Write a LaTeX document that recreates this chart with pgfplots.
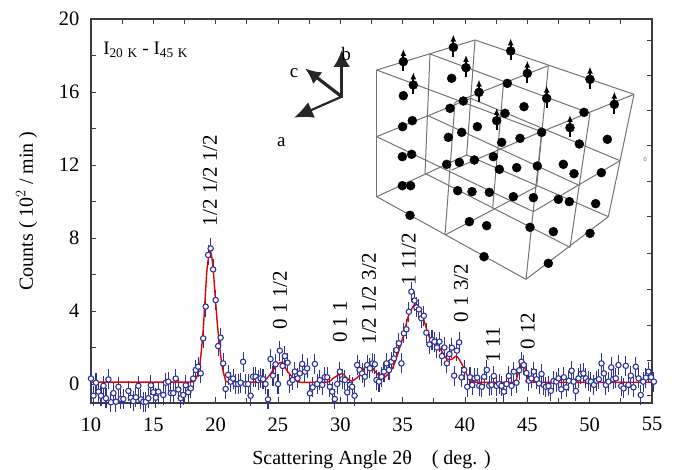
\documentclass[border=0pt]{standalone}
\usepackage{pgfplots}
\pgfplotsset{compat=1.18}
\usepackage{fontspec}
\setmainfont{Liberation Serif}
\usetikzlibrary{arrows.meta}
\definecolor{ptblue}{RGB}{45,50,150}
\definecolor{axgray}{RGB}{60,60,60}
\definecolor{wire}{RGB}{115,115,115}
\newcommand{\wl}[4]{\addplot[wire,line width=1pt] coordinates {(#1,#2) (#3,#4)};}
\newcommand{\spin}[2]{\addplot[black,line width=2pt,-{Latex[length=7pt,width=6pt]}] coordinates {(#1,#2+28) (#1,#2-38)};}
\pgfplotstableread{
x y
10.0 0.30
10.2 -0.64
10.4 0.07
10.6 -0.42
10.8 -0.64
11.0 -0.10
11.2 -0.78
11.4 0.25
11.6 -1.00
11.8 -0.50
12.0 -0.97
12.2 -0.15
12.4 -0.82
12.6 -0.82
13.0 -0.38
13.2 -0.75
13.4 -0.93
13.6 -0.73
13.8 -0.10
14.0 -0.84
14.2 -0.97
14.4 -0.97
14.6 -0.78
14.8 -0.07
15.0 -0.45
15.2 -0.75
15.4 -0.42
15.8 -0.60
16.0 0.07
16.2 0.13
16.4 -0.50
16.6 -0.50
16.8 0.30
17.0 -0.30
17.2 -0.78
17.4 -0.60
17.6 -0.07
17.8 -0.45
18.0 -0.24
18.2 0.30
18.4 0.77
18.6 0.95
18.8 0.58
19.0 2.50
19.2 4.24
19.4 7.07
19.6 7.43
19.8 6.28
20.0 4.60
20.2 2.08
20.4 2.54
20.6 1.13
20.8 -0.27
21.0 0.50
21.2 0.13
21.4 0.30
21.6 0.00
21.8 0.00
22.0 0.07
22.2 1.22
22.4 0.00
22.6 0.00
22.8 -0.64
23.0 0.40
23.2 0.40
23.4 0.22
23.6 0.31
23.8 0.27
24.0 0.00
24.2 -0.84
24.4 1.37
24.6 0.46
24.8 1.08
25.0 0.00
25.15 1.83
25.37 0.99
25.55 1.53
25.77 1.17
25.95 0.07
26.17 0.22
26.35 0.68
26.57 0.31
26.75 0.58
26.94 1.10
27.16 0.68
27.34 0.86
27.56 -0.51
27.77 -0.18
27.96 1.10
28.15 0.00
28.36 0.22
28.55 -0.05
28.76 0.37
28.95 0.37
29.16 -0.15
29.35 -0.42
29.56 -0.82
29.75 0.00
29.96 0.68
30.15 0.26
30.36 0.22
30.55 -0.46
30.77 -0.05
30.95 -0.15
31.14 -0.64
31.35 1.04
31.54 0.77
31.75 0.58
31.97 0.40
32.15 1.04
32.37 0.86
32.57 1.13
32.77 1.08
32.90 0.22
33.10 0.13
33.30 0.40
33.50 0.68
33.70 1.13
33.90 0.77
34.10 1.22
34.30 1.40
34.50 1.86
34.70 2.23
34.90 1.13
35.10 2.78
35.30 3.00
35.50 3.96
35.70 5.06
35.95 4.57
36.10 4.20
36.30 4.09
36.50 3.60
36.70 3.74
36.90 2.81
37.15 2.17
37.35 2.41
37.55 2.32
37.75 2.00
37.95 2.32
38.15 1.53
38.35 2.00
38.55 1.13
38.75 1.64
38.95 1.99
39.13 0.46
39.35 1.83
39.53 2.28
39.72 0.37
39.93 0.77
40.18 -0.15
40.40 0.37
40.58 -0.05
40.77 0.31
40.98 0.35
41.14 -0.10
41.35 -0.15
41.54 0.40
41.76 0.77
41.94 -0.09
42.13 -0.05
42.32 0.44
42.53 -0.10
42.74 0.00
42.93 -0.10
43.12 -0.42
43.33 0.00
43.52 0.44
43.73 -0.10
43.92 0.68
44.13 0.07
44.35 0.75
44.53 1.22
44.72 1.04
44.93 0.60
45.12 0.18
45.33 0.31
45.52 0.68
45.74 0.26
45.94 0.03
46.14 0.55
46.32 -0.05
46.49 -0.15
46.70 -0.11
46.89 -0.37
47.10 0.16
47.32 0.13
47.50 0.31
47.72 -0.29
47.93 0.37
48.12 -0.18
48.33 0.18
48.55 0.73
48.71 0.13
48.89 -0.38
49.10 0.31
49.29 0.55
49.50 0.58
49.70 0.31
49.88 0.16
50.10 0.13
50.34 -0.05
50.55 0.18
50.74 0.26
50.95 1.13
51.14 0.58
51.30 -0.05
51.51 0.13
51.73 0.91
51.89 0.26
52.10 0.31
52.31 1.04
52.53 -0.11
52.72 -0.24
52.90 1.00
53.11 -0.05
53.30 0.46
53.51 -0.18
53.70 0.95
53.92 0.31
54.10 -0.60
54.29 0.13
54.51 0.35
54.72 0.68
54.93 0.37
55.15 0.13
}\pts
\pgfplotstableread{
x y
10.0 0.10
14.0 0.10
18.0 0.11
18.3 0.22
18.5 0.42
18.74 1.13
19.0 2.96
19.28 6.06
19.45 7.05
19.57 7.30
19.68 7.00
19.81 6.23
20.13 3.32
20.48 1.13
20.75 0.31
21.01 0.11
23.60 0.11
23.82 0.13
24.22 0.40
24.62 0.77
25.00 1.10
25.37 1.19
25.75 0.70
26.50 0.16
27.00 0.09
29.00 0.11
29.40 0.30
30.10 0.58
30.50 0.35
30.90 0.16
31.44 0.40
32.00 0.95
32.37 1.04
32.90 0.60
33.44 0.31
34.24 0.95
35.04 2.60
35.44 3.69
35.98 4.38
36.38 4.15
36.78 3.32
37.18 2.50
37.85 2.10
38.50 1.40
38.92 1.35
39.32 1.53
39.72 1.13
40.12 0.55
40.40 0.22
40.90 0.10
43.90 0.10
44.13 0.30
44.62 1.17
45.07 0.30
45.47 0.10
55.00 0.10
}\fit
\begin{document}
\begin{tikzpicture}
\path[use as bounding box] (-91pt,-67pt) rectangle (584pt,403pt);
\begin{axis}[
  at={(0,0)},anchor=south west,scale only axis,width=561pt,height=384pt,
  xmin=-537,xmax=1146,ymin=12,ymax=1164,y dir=reverse,
  xtick=\empty,ytick pos=right,
  ytick={75,180,285,392,500,605,715,822,930,1035,1140},
  yticklabels={},
  tick align=inside,major tick length=5pt,
  axis line style={draw=none},
  every tick/.style={axgray,line width=0.9pt},
  clip=false]
\wl{320}{165}{320}{545}
\wl{480}{117}{465}{475}
\wl{615}{75}{590}{420}
\wl{835}{152}{800}{515}
\wl{1092}{238}{1015}{605}
\wl{555}{262}{525}{660}
\wl{700}{210}{668}{580}
\wl{960}{295}{900}{697}
\wl{815}{350}{768}{793}
\wl{320}{165}{615}{75}
\wl{615}{75}{1092}{238}
\wl{320}{165}{815}{350}
\wl{815}{350}{1092}{238}
\wl{480}{117}{960}{295}
\wl{835}{152}{555}{262}
\wl{320}{365}{602}{250}
\wl{602}{250}{1050}{437}
\wl{320}{365}{790}{590}
\wl{790}{590}{1050}{437}
\wl{470}{300}{925}{510}
\wl{545}{465}{825}{345}
\wl{320}{545}{590}{420}
\wl{590}{420}{1015}{605}
\wl{320}{545}{768}{793}
\wl{768}{793}{1015}{605}
\wl{465}{475}{900}{697}
\wl{525}{660}{800}{515}
\addplot[only marks,mark=*,mark size=4.5pt,black] coordinates {
(400,140)(550,97)(722,108)(588,158)(772,175)(960,193)(1033,268)(430,210)(627,232)(830,250)(680,317)(900,338)
(545,190)(400,242)(712,205)(580,258)(540,280)(762,275)(942,292)(705,295)(427,317)(398,335)(622,335)(575,352)(535,367)(815,352)(750,370)(695,382)(928,387)(1012,373)
(425,418)(397,425)(613,435)(568,442)(530,448)(670,425)(688,463)(740,458)(802,453)(880,448)(912,476)(994,473)
(422,512)(397,512)(563,527)(606,530)(658,532)(730,545)(790,548)(865,553)(898,560)(977,566)
(420,601)(598,620)(650,632)(780,637)(850,650)(960,655)(642,725)(835,745)};
\spin{400}{140}\spin{550}{97}\spin{722}{108}\spin{588}{158}\spin{772}{175}\spin{960}{193}
\spin{1033}{268}\spin{430}{210}\spin{627}{232}\spin{830}{250}\spin{680}{317}\spin{900}{338}
\addplot[black!85,line width=3.2pt,-{Latex[length=17pt,width=17pt]}] coordinates {(215,248)(215,105)};
\addplot[black!85,line width=3.2pt,-{Latex[length=16pt,width=15pt]}] coordinates {(215,245)(105,160)};
\addplot[black!85,line width=2.2pt,-{Latex[length=19pt,width=17pt]}] coordinates {(215,245)(72,308)};
\addplot[only marks,mark=diamond,mark size=2pt,gray] coordinates {(1125,432)};
\node[font=\fontsize{19}{19}\selectfont] at (axis cs:34,382) {a};
\node[font=\fontsize{19}{19}\selectfont] at (axis cs:228,118) {b};
\node[font=\fontsize{19}{19}\selectfont] at (axis cs:72,175) {c};
\end{axis}
\begin{axis}[
  at={(0,0)},anchor=south west,scale only axis,width=561pt,height=384pt,
  xmin=10,xmax=55,ymin=-1.04,ymax=20,
  xtick={10,15,...,55},ytick={0,4,...,20},
  minor xtick={12.5,17.5,...,52.5},minor ytick={2,6,...,18},
  tick align=inside,ytick pos=left,
  major tick length=5.5pt,minor tick length=5pt,
  axis line style={axgray,line width=1.5pt},
  every tick/.style={axgray,line width=0.9pt},
  /pgf/number format/assume math mode=true,
  tick label style={font=\fontsize{20.5}{20.5}\selectfont},
  xticklabel style={yshift=-11pt},
  yticklabel style={xshift=-8pt},
  xlabel={Scattering Angle 2θ\ \ \ \ ( deg. )},
  ylabel={Counts ( 10$^{2}$ / min )},
  label style={font=\fontsize{20}{20}\selectfont},
  xlabel shift=12pt,
  ylabel shift=15pt,
  clip=false]
\addplot[ptblue,only marks,mark=*,mark size=2.7pt,
  mark options={fill=white,draw=ptblue,line width=1.1pt},
  error bars/.cd,y dir=both,y fixed=0.55,error mark=none,
  error bar style={ptblue,line width=1.1pt}] table[x=x,y=y] {\pts};
\addplot[red!90!black,line width=1.4pt,smooth,tension=0.4] table[x=x,y=y] {\fit};
\node[anchor=west,font=\fontsize{19}{19}\selectfont] at (axis cs:10.7,18.3) {I$_{\mathrm{20\ K}}$ - I$_{\mathrm{45\ K}}$};
\tikzset{lbl/.style={rotate=90,inner sep=0pt,font=\fontsize{21}{21}\selectfont}}
\node[lbl] at (axis cs:19.54,11.15) {1/2 1/2 1/2};
\node[lbl] at (axis cs:25.16,4.6) {0 1 1/2};
\node[lbl] at (axis cs:29.97,3.4) {0 1 1};
\node[lbl] at (axis cs:32.3,4.66) {1/2 1/2 3/2};
\node[lbl] at (axis cs:35.5,6.85) {1 11/2};
\node[lbl] at (axis cs:39.67,4.99) {0 1 3/2};
\node[lbl] at (axis cs:42.24,2.14) {1 11};
\node[lbl] at (axis cs:45.04,2.9) {0 12};
\end{axis}
\end{tikzpicture}
\end{document}
